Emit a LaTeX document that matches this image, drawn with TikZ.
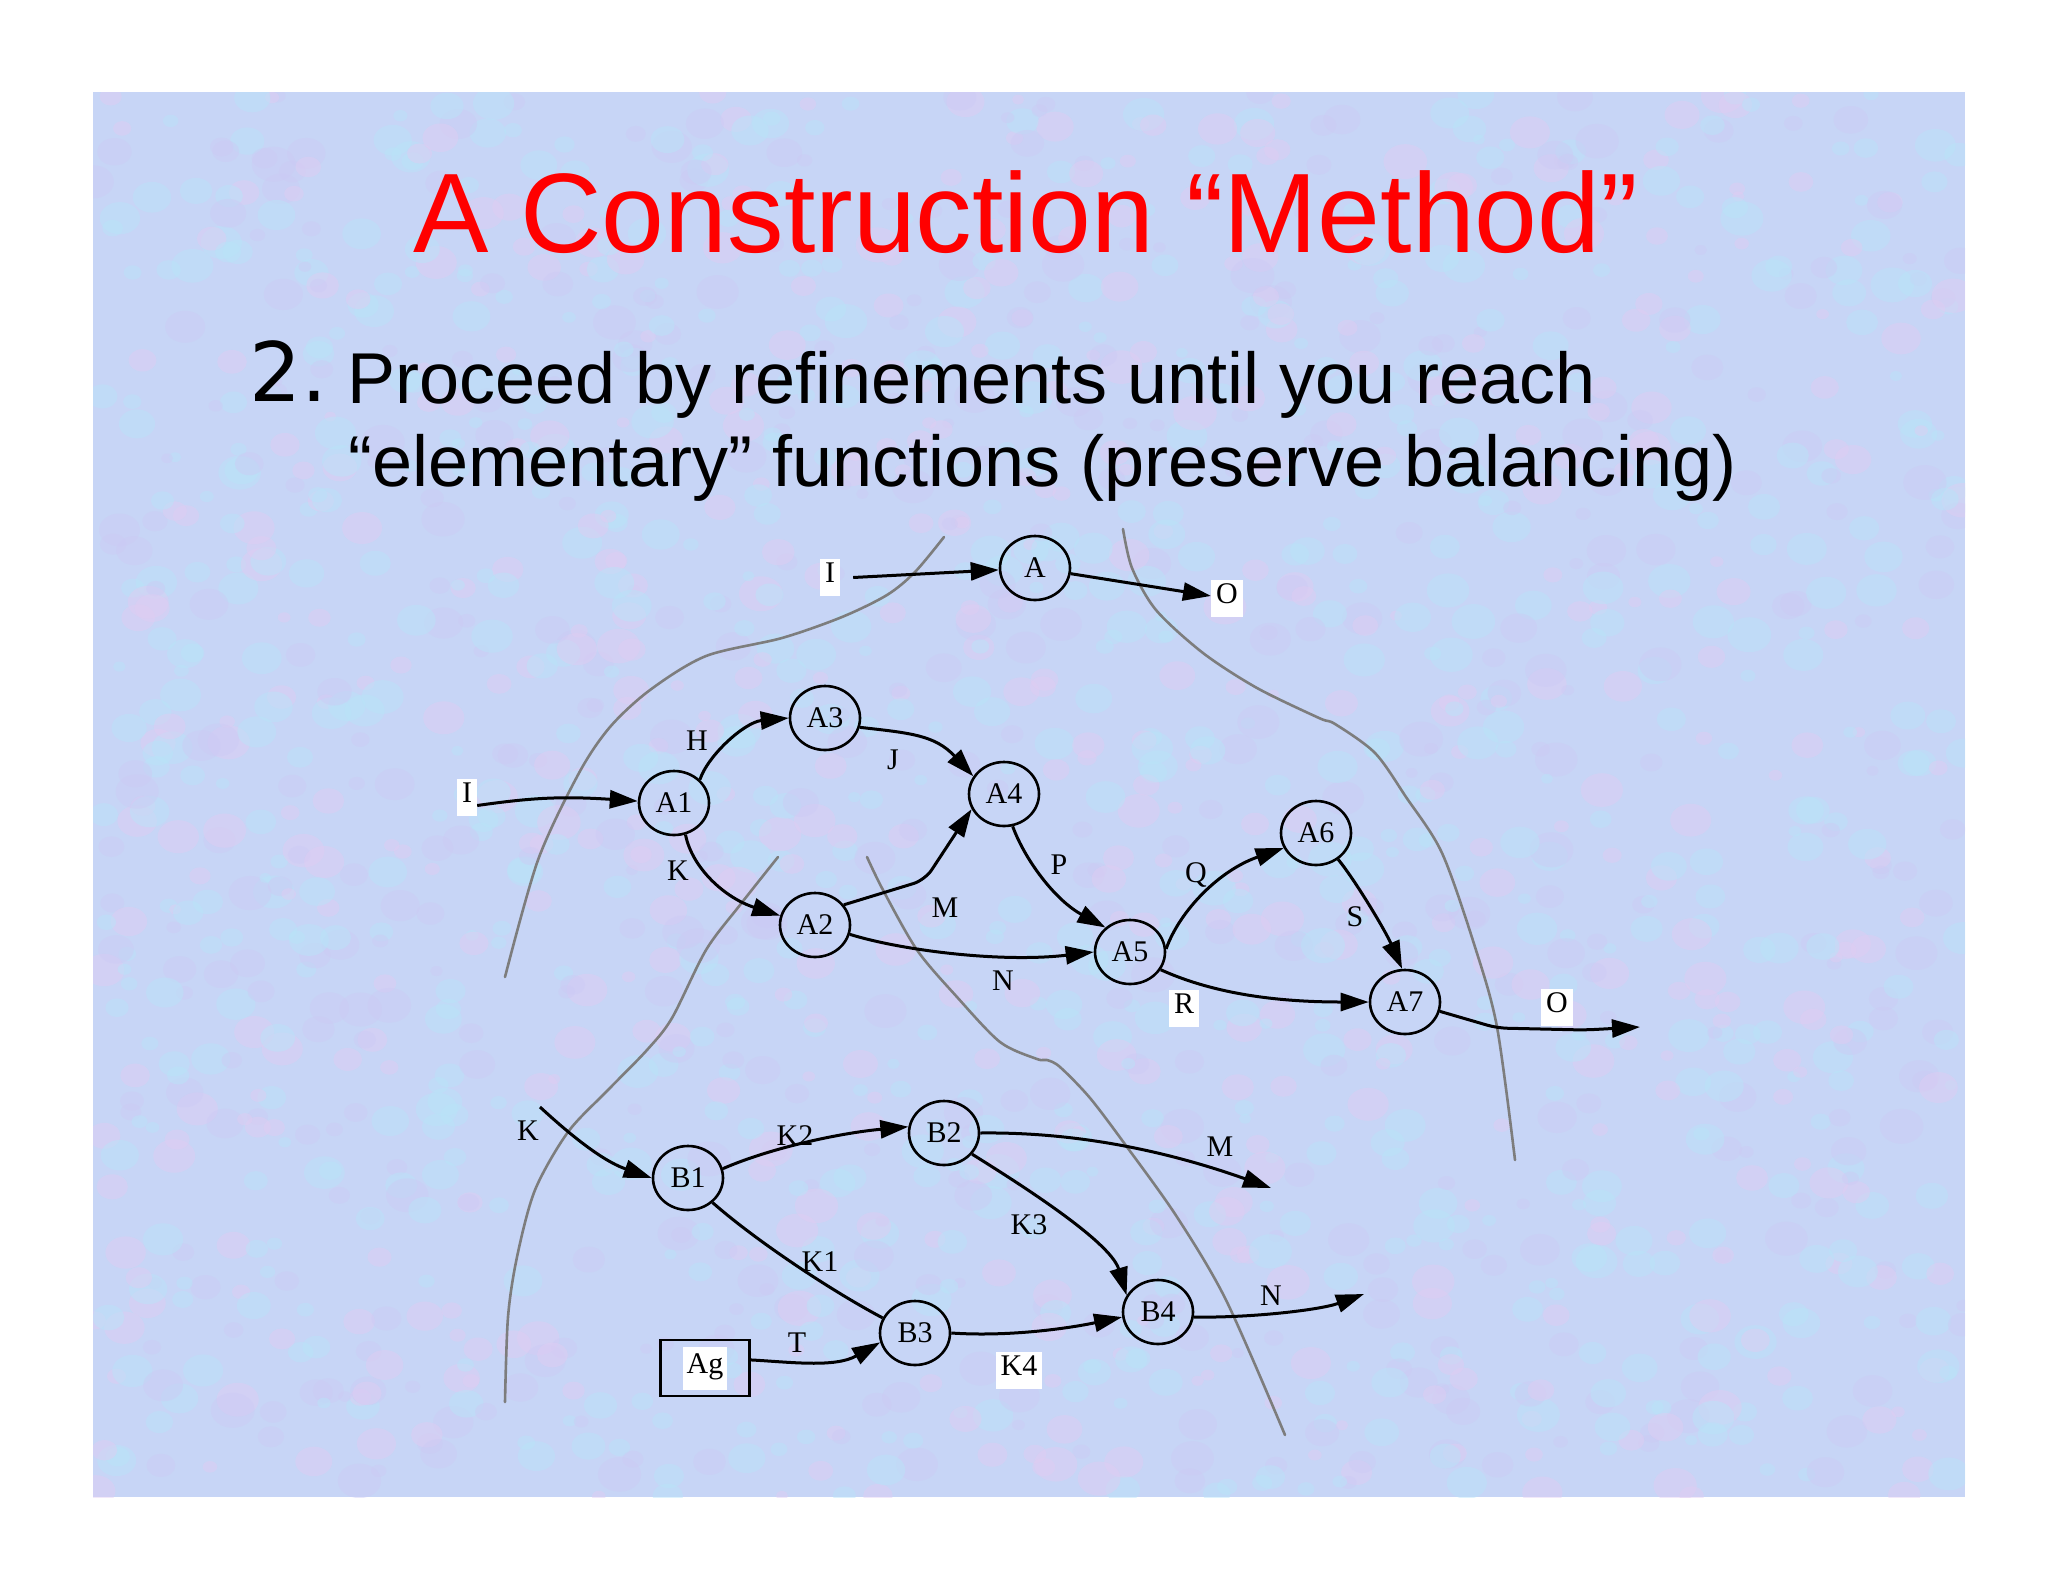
\documentclass[tikz,border=0pt]{standalone}
\usepackage{fontspec}
\newfontfamily\arialf{Liberation Sans}
\newfontfamily\timesf{Liberation Serif}
\newfontfamily\dejavuf{DejaVu Sans}
\usetikzlibrary{arrows.meta,shapes.geometric}
\definecolor{slidebg}{RGB}{199,213,246}
\definecolor{blotpink}{RGB}{224,204,242}
\definecolor{blotcyan}{RGB}{184,228,249}
\definecolor{blotlav}{RGB}{204,202,244}
\definecolor{curvegray}{RGB}{125,125,125}
\definecolor{titlered}{RGB}{255,0,0}
\begin{document}
\begin{tikzpicture}[x=1pt,y=-1pt,
  fnode/.style={ellipse, draw, line width=2.6pt, minimum width=70pt, minimum height=64pt, inner sep=0pt, font=\timesf\fontsize{30}{36}\selectfont},
  lab/.style={inner sep=0pt, font=\timesf\fontsize{30}{36}\selectfont},
  wlab/.style={fill=white, inner xsep=5pt, inner ysep=1pt, text height=22pt, text depth=13pt, anchor=base, font=\timesf\fontsize{30}{36}\selectfont},
  flow/.style={line width=3pt, -{Triangle[length=28pt,width=18pt]}},
  flowline/.style={line width=3pt},
  bound/.style={curvegray, line width=2.6pt, line cap=round, line join=round}
]
\useasboundingbox (0,0) rectangle (2048,1582);
\fill[white] (0,0) rectangle (2048,1582);
\fill[slidebg] (93,92) rectangle (1965,1497);
\begin{scope}
\clip (93,92) rectangle (1965,1497);
\pgfmathsetseed{11}
\foreach \i in {1,...,1800}{
  \pgfmathsetmacro{\bx}{93+1872*rnd}
  \pgfmathsetmacro{\by}{92+1405*rnd}
  \pgfmathsetmacro{\br}{6+16*rnd}
  \pgfmathsetmacro{\bc}{rnd}
  \ifdim\bc pt<0.3pt \def\bcol{blotpink}\else\ifdim\bc pt<0.7pt \def\bcol{blotcyan}\else\def\bcol{blotlav}\fi\fi
  \fill[\bcol, opacity=0.45] (\bx,\by) ellipse [x radius=\br pt, y radius=0.8*\br pt];
}
\end{scope}

% texts
\node[anchor=base, inner sep=0pt, text=titlered, font=\arialf\fontsize{113}{130}\selectfont] (title) at (1026,252) {A Construction “Method”};
\node[anchor=base west, inner sep=0pt, font=\dejavuf\fontsize{82}{96}\selectfont] (num) at (249,401) {2.};
\node[anchor=base west, inner sep=0pt, font=\arialf\fontsize{72}{86}\selectfont] (line1) at (347,403) {Proceed by refinements until you reach};
\node[anchor=base west, inner sep=0pt, font=\arialf\fontsize{72}{86}\selectfont] (line2) at (348,486) {“elementary” functions (preserve balancing)};

% boundary curves
\draw[bound] plot[smooth, tension=0.5] coordinates {(944,537) (915,572) (887,595) (842,617) (782,638) (706,656) (650,690) (610,727) (579,773) (538,860) (505,977)};
\draw[bound] plot[smooth, tension=0.5] coordinates {(1123,529) (1132,568) (1156,610) (1203,653) (1257,688) (1319,718) (1335,724) (1375,753) (1406,797) (1442,853) (1475,947) (1497,1027) (1515,1160)};
\draw[bound] plot[smooth, tension=0.5] coordinates {(778,857) (740,905) (706,950) (672,1018) (647,1050) (608,1090) (568,1132) (535,1190) (517,1257) (508,1317) (505,1402)};
\draw[bound] plot[smooth, tension=0.5] coordinates {(867,857) (883,890) (917,950) (957,997) (1000,1042) (1037,1059) (1047,1060) (1060,1067) (1090,1098) (1127,1147) (1177,1217) (1226,1300) (1285,1435)};

% function nodes
\node[fnode] (A) at (1035,568) {A};
\node[fnode] (A1) at (674,803) {A1};
\node[fnode] (A3) at (825,718) {A3};
\node[fnode] (A4) at (1004,794) {A4};
\node[fnode] (A2) at (815,925) {A2};
\node[fnode] (A5) at (1130,952) {A5};
\node[fnode] (A6) at (1316,833) {A6};
\node[fnode] (A7) at (1405,1002) {A7};
\node[fnode] (B1) at (688,1178) {B1};
\node[fnode] (B2) at (944,1133) {B2};
\node[fnode] (B3) at (915,1333) {B3};
\node[fnode] (B4) at (1158,1312) {B4};
\node[draw, line width=2.6pt, minimum width=89pt, minimum height=56pt, inner sep=0pt, font=\timesf\fontsize{30}{36}\selectfont] (Ag) at (705,1368) {\setlength{\fboxsep}{4pt}\colorbox{white}{\rule[-12pt]{0pt}{35pt}Ag}};

% labels with white background
\node[wlab] (Itop) at (830,582) {I};
\node[wlab] (Otop) at (1227,603) {O};
\node[wlab] (Il) at (467,802) {I};
\node[wlab] (Rl) at (1184,1013) {R};
\node[wlab] (Orl) at (1557,1012) {O};
\node[wlab] (K4l) at (1019,1375) {K4};

% plain labels
\node[lab] (Hl) at (697,741) {H};
\node[lab] (Jl) at (893,760) {J};
\node[lab] (Kl) at (678,871) {K};
\node[lab] (Ml) at (945,908) {M};
\node[lab] (Nl) at (1003,981) {N};
\node[lab] (Pl) at (1059,865) {P};
\node[lab] (Ql) at (1196,875) {Q};
\node[lab] (Sl) at (1355,917) {S};
\node[lab] (KBl) at (528,1131) {K};
\node[lab] (K2l) at (795,1136) {K2};
\node[lab] (MBl) at (1220,1147) {M};
\node[lab] (K3l) at (1029,1225) {K3};
\node[lab] (K1l) at (820,1262) {K1};
\node[lab] (NBl) at (1271,1296) {N};
\node[lab] (Tl) at (797,1343) {T};

% free ends
\coordinate (aout) at (1640,1027);
\coordinate (kin) at (540,1107);
\coordinate (mout) at (1271,1188);
\coordinate (nout) at (1364,1294);

% edges, top level
\draw[flow] ([xshift=13pt]Itop.east) -- (A);
\draw[flow] (A) -- (Otop);

% edges, level A
\draw[flow] ([yshift=-8pt]Il.east) .. controls (530,798) and (560,796) .. (A1.177);
\draw[flow] (A1.42) .. controls (708,755) and (745,722) .. (A3.180);
\draw[flow] (A3.-15) .. controls (910,733) and (935,735) .. (A4.150);
\draw[flow] (A1.-70) .. controls (692,868) and (725,898) .. (A2.165);
\draw[flow, rounded corners=12pt] (A2.35) -- (925,880) -- (A4.205);
\draw[flow] (A2.-15) .. controls (900,950) and (1000,963) .. (A5.180);
\draw[flow] (A4.-75) .. controls (1025,860) and (1055,900) .. (A5.135);
\draw[flow] (A5.5) .. controls (1180,910) and (1220,870) .. (A6.205);
\draw[flow] (A6.-50) .. controls (1355,880) and (1385,930) .. (A7.95);
\draw[flow] (A5.-30) .. controls (1210,992) and (1270,1002) .. (A7.180);
\draw[flow, rounded corners=10pt] (A7.-15) -- (1497,1028) -- (1585,1030) -- (aout);

% edges, level B
\draw[flow] (kin) .. controls (565,1130) and (600,1160) .. (B1.180);
\draw[flow] (B1.15) .. controls (770,1148) and (840,1133) .. (B2.170);
\draw[flow] (B2.east) .. controls (1060,1132) and (1150,1145) .. (mout);
\draw[flow] (B2.-37) .. controls (1010,1178) and (1110,1240) .. (B4.152);
\draw[flowline] (B1.-45) .. controls (755,1240) and (830,1290) .. (B3.155);
\draw[flow] (B3.east) .. controls (1010,1337) and (1070,1328) .. (B4.188);
\draw[flow] (B4.-8) .. controls (1250,1318) and (1320,1310) .. (nout);
\draw[flow] (Ag.10) .. controls (790,1362) and (835,1368) .. (B3.195);
\end{tikzpicture}
\end{document}
